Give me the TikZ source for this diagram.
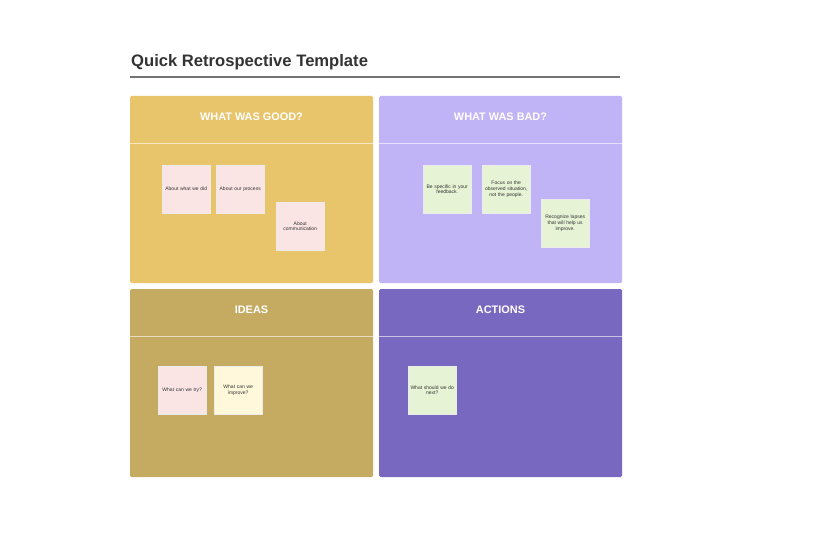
\documentclass[tikz,border=0pt]{standalone}
\usepackage{fontspec}
\setmainfont{Liberation Sans}
\usetikzlibrary{shadows}
\definecolor{cgood}{HTML}{E8C46A}
\definecolor{cbad}{HTML}{C0B4F6}
\definecolor{cideas}{HTML}{C5AA62}
\definecolor{cact}{HTML}{7868C0}
\definecolor{spink}{HTML}{FBE4E4}
\definecolor{sgreen}{HTML}{E7F3D5}
\definecolor{syellow}{HTML}{FFF8DA}
\definecolor{ctitle}{HTML}{333333}
\tikzset{
  panel/.style={rounded corners=1.5pt, draw=none},
  hdr/.style={font=\bfseries\fontsize{10.9}{12}\selectfont, text=white, anchor=center},
  sticky/.style={draw=black!8, line width=0.4pt, minimum width=48pt, minimum height=48pt, inner sep=1.5pt, text width=45pt, align=center, font=\fontsize{5}{5.6}\selectfont, text=black!80, drop shadow={shadow xshift=0.8pt, shadow yshift=-1.2pt, opacity=0.16, fill=black}, anchor=north west}
}
\begin{document}
\begin{tikzpicture}[x=1pt,y=-1pt]
\useasboundingbox (0,0) rectangle (840,540);
\fill[white] (0,0) rectangle (840,540);
% title
\node[anchor=west, font=\bfseries\fontsize{16.6}{18}\selectfont, text=ctitle, inner sep=0] (title) at (131,62) {Quick Retrospective Template};
\coordinate (tl) at (130,77);
\coordinate (tr) at (620,77);
\draw[black!55, line width=1.3pt] (tl) -- (tr);
% panels
\fill[panel, cgood] (130,96) rectangle (373,283);
\fill[panel, cbad] (379,96) rectangle (622,283);
\fill[panel, cideas] (130,289) rectangle (373,477);
\fill[panel, cact] (379,289) rectangle (622,477);
\draw[white, opacity=0.6, line width=0.7pt] (130,143) -- (373,143);
\draw[white, opacity=0.6, line width=0.7pt] (379,143) -- (622,143);
\draw[white, opacity=0.6, line width=0.7pt] (130,336) -- (373,336);
\draw[white, opacity=0.6, line width=0.7pt] (379,336) -- (622,336);
\node[hdr] (h1) at (251.5,116.5) {WHAT WAS GOOD?};
\node[hdr] (h2) at (500.5,116.5) {WHAT WAS BAD?};
\node[hdr] (h3) at (251.5,310) {IDEAS};
\node[hdr] (h4) at (500.5,310) {ACTIONS};
% stickies
\node[sticky, fill=spink] (s1) at (162,165) {About what we did};
\node[sticky, fill=spink] (s2) at (216,165) {About our process};
\node[sticky, fill=spink] (s3) at (276,202) {About\\communication};
\node[sticky, fill=sgreen] (s4) at (423,165) {Be specific in your\\feedback.};
\node[sticky, fill=sgreen] (s5) at (482,165) {Focus on the\\observed situation,\\not the people.};
\node[sticky, fill=sgreen] (s6) at (541,199) {Recognize lapses\\that will help us\\improve.};
\node[sticky, fill=spink] (s7) at (158,366) {What can we try?};
\node[sticky, fill=syellow] (s8) at (214,366) {What can we\\improve?};
\node[sticky, fill=sgreen] (s9) at (408,366) {What should we do\\next?};
\end{tikzpicture}
\end{document}
